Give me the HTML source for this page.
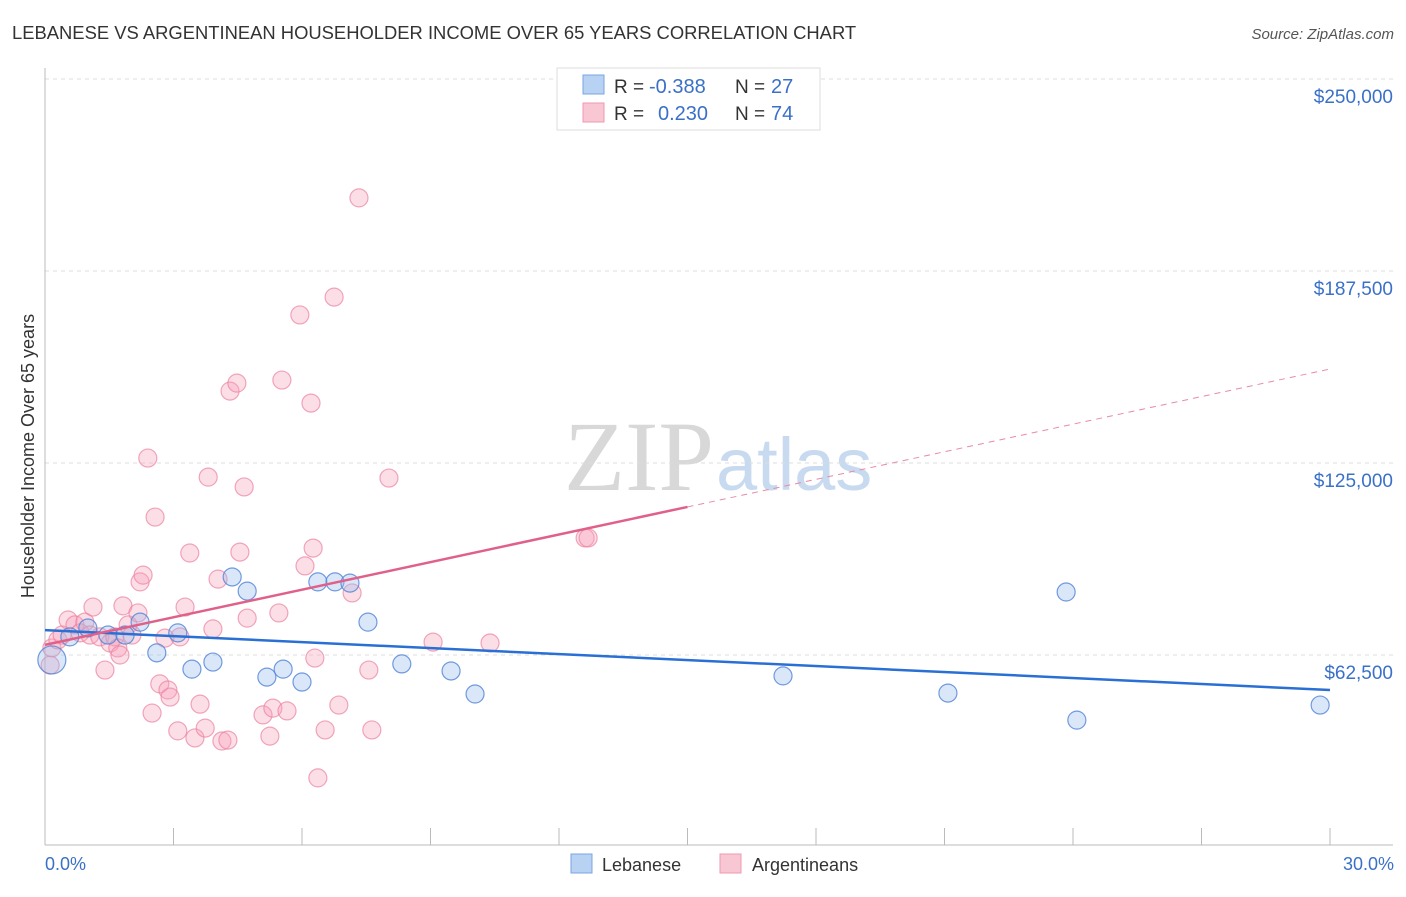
<!DOCTYPE html>
<html><head><meta charset="utf-8"><style>
body{margin:0;background:#fff;font-family:"Liberation Sans",sans-serif}
</style></head><body>
<svg width="1406" height="892" xmlns="http://www.w3.org/2000/svg" font-family="Liberation Sans, sans-serif">
<text x="12" y="39" font-size="18.4" fill="#333">LEBANESE VS ARGENTINEAN HOUSEHOLDER INCOME OVER 65 YEARS CORRELATION CHART</text>
<text x="1394" y="39" font-size="15" fill="#555" font-style="italic" text-anchor="end">Source: ZipAtlas.com</text>
<text x="714" y="490" font-size="100" fill="#d8d8d8" text-anchor="end" font-family="Liberation Serif, serif">ZIP</text>
<text x="716" y="490" font-size="74" fill="#c8daf0">atlas</text>
<g id="grid"></g>
<g id="axes"></g>
<g id="pts"></g>
<g id="trend"></g>
<text transform="translate(34,456) rotate(-90)" font-size="18" fill="#333" text-anchor="middle">Householder Income Over 65 years</text>
<text x="45" y="870" font-size="18" fill="#3a70c8">0.0%</text>
<text x="1394" y="870" font-size="18" fill="#3a70c8" text-anchor="end">30.0%</text>
<g>
<rect x="557" y="68" width="263" height="62" fill="#fff" stroke="#ddd"/>
<rect x="583" y="75" width="21" height="19" fill="#b8d2f4" stroke="#7aa4e0"/>
<rect x="583" y="103" width="21" height="19" fill="#f9c6d4" stroke="#ee9ab2"/>
<text x="614" y="93" font-size="19" fill="#333">R =</text>
<text x="649" y="93" font-size="20" fill="#3a70c8">-0.388</text>
<text x="735" y="93" font-size="19" fill="#333">N =</text>
<text x="771" y="93" font-size="20" fill="#3a70c8">27</text>
<text x="614" y="120" font-size="19" fill="#333">R =</text>
<text x="658" y="120" font-size="20" fill="#3a70c8">0.230</text>
<text x="735" y="120" font-size="19" fill="#333">N =</text>
<text x="771" y="120" font-size="20" fill="#3a70c8">74</text>
</g>
<g>
<rect x="571" y="854" width="21" height="19" fill="#b8d2f4" stroke="#7aa4e0"/>
<text x="602" y="871" font-size="18" fill="#333">Lebanese</text>
<rect x="720" y="854" width="21" height="19" fill="#f9c6d4" stroke="#ee9ab2"/>
<text x="752" y="871" font-size="18" fill="#333">Argentineans</text>
</g>
</svg>
<script>
const yTicks=[62500,125000,187500,250000];
const yTickLabels=["$62,500","$125,000","$187,500","$250,000"];
const blueX=[0.16,0.58,1.0,1.47,1.87,2.22,2.61,3.1,3.43,3.92,4.37,4.72,5.18,5.56,6.0,6.37,6.77,7.12,7.54,8.33,9.48,10.04,17.23,21.08,23.84,24.09,29.77];
const blueY=[60.9,68.4,71.3,69.0,69.0,73.2,63.2,69.7,57.9,60.2,87.9,83.3,55.3,57.9,53.7,86.3,86.3,85.9,73.2,59.6,57.3,49.8,55.7,50.1,83.0,41.3,46.2];
const pinkX=[0.16,0.12,0.30,0.40,0.54,0.70,0.82,0.93,1.05,1.12,1.28,1.40,1.52,1.63,1.70,1.75,1.82,1.94,2.03,2.17,2.22,2.29,2.40,2.50,2.57,2.68,2.80,2.87,2.92,3.10,3.15,3.27,3.38,3.50,3.62,3.74,3.81,3.92,4.04,4.13,4.27,4.32,4.48,4.55,4.65,4.72,5.09,5.25,5.32,5.46,5.53,5.65,5.95,6.07,6.21,6.26,6.30,6.37,6.54,6.75,6.86,7.17,7.33,7.56,7.63,8.03,9.06,10.39,12.61,12.68];
const pinkY=[64.8,59.2,67.4,69.0,73.9,72.3,69.7,73.2,69.0,78.1,68.4,57.6,66.4,68.4,64.8,62.5,78.5,72.3,69.0,76.2,86.3,88.5,126.6,43.6,107.4,53.1,68.0,51.1,48.8,37.8,68.4,78.1,95.7,35.5,46.5,38.7,120.4,71.0,87.2,34.5,34.8,148.4,151.0,96.0,117.2,74.5,43.0,36.1,45.2,76.2,152.0,44.3,173.2,91.5,144.5,97.3,61.5,22.5,38.1,179.0,46.2,82.7,211.3,57.6,38.1,120.1,66.7,66.4,100.6,100.6];
const blueTrend=[70.6,51.1];
const pinkTrend=[65.8,155.6];
const NS="http://www.w3.org/2000/svg";
const X=v=>45+v/30*1285;
const Y=k=>847-k*1000/62500*192;
function mk(t,a,p){const e=document.createElementNS(NS,t);for(const k in a)e.setAttribute(k,a[k]);p.appendChild(e);return e;}
const grid=document.getElementById('grid'),axes=document.getElementById('axes'),pts=document.getElementById('pts'),tr=document.getElementById('trend');
yTicks.forEach((v,i)=>{const y=847-v/62500*192;
const l=mk('line',{x1:45,x2:1393,y1:y,y2:y,stroke:'#ddd','stroke-dasharray':'4,4'},grid);


const t=mk('text',{x:1393,y:y+24,'font-size':19,fill:'#3a70c8','text-anchor':'end'},grid);t.textContent=yTickLabels[i];

});
let a=mk('line',{x1:45,x2:45,y1:68,y2:845,stroke:'#bbb'},axes);


a=mk('line',{x1:45,x2:1393,y1:845,y2:845,stroke:'#bbb'},axes);


for(let i=1;i<=10;i++){const t=mk('line',{x1:X(i*3),x2:X(i*3),y1:828,y2:845,stroke:'#bbb'},axes);

}
pinkX.forEach((x,i)=>{const c=mk('circle',{cx:X(x),cy:Y(pinkY[i]),r:9,fill:'rgba(245,160,185,0.35)',stroke:'rgba(235,130,160,0.7)','stroke-width':1.2},pts);

});
blueX.forEach((x,i)=>{const c=mk('circle',{cx:X(x),cy:Y(blueY[i]),r:i==0?14:9,fill:'rgba(150,185,235,0.35)',stroke:'rgba(80,130,215,0.8)','stroke-width':1.2},pts);

});
let l=mk('line',{x1:X(0),y1:Y(blueTrend[0]),x2:X(30),y2:Y(blueTrend[1]),stroke:'#2a6fd4','stroke-width':2.5},tr);


const pm=(x)=>pinkTrend[0]+(pinkTrend[1]-pinkTrend[0])*x/30;
l=mk('line',{x1:X(0),y1:Y(pm(0)),x2:X(15),y2:Y(pm(15)),stroke:'#e0608a','stroke-width':2.5},tr);


l=mk('line',{x1:X(15),y1:Y(pm(15)),x2:X(30),y2:Y(pm(30)),stroke:'#e88aa8','stroke-width':1,'stroke-dasharray':'6,5'},tr);


</script>
</body></html>
